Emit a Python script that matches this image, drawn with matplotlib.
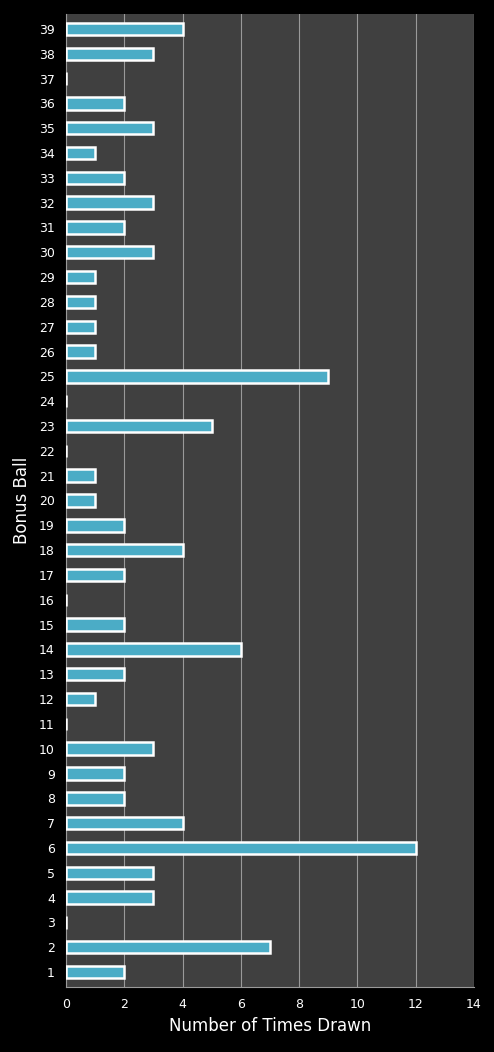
import matplotlib
matplotlib.use("Agg")
import matplotlib.pyplot as plt

balls = list(range(1, 40))
counts = [2,7,0,3,3,12,4,2,2,3,0,1,2,6,2,0,2,4,2,1,1,0,5,0,9,1,1,1,1,3,2,3,2,1,3,2,0,3,4]
xticks = [0,2,4,6,8,10,12,14]

fig = plt.figure(figsize=(4.94,10.52), dpi=100, facecolor='black')
ax = fig.add_axes([0.1336,0.0618,0.8259,0.9249])
ax.set_facecolor('#404040')
ax.barh(balls, counts, height=0.5, color='#4bacc6', edgecolor='white', linewidth=1.8, zorder=3)
ax.set_xlim(0,14)
ax.set_ylim(0.4,39.6)
ax.set_xticks(xticks)
ax.set_yticks(balls)
ax.set_yticklabels([str(b) for b in balls])
ax.grid(axis='x', color='#9a9a9a', linewidth=0.8, zorder=0)
for s in ['top','right']:
    ax.spines[s].set_visible(False)
for s in ['left','bottom']:
    ax.spines[s].set_color('#9a9a9a')
ax.tick_params(colors='white', labelsize=9, length=0, pad=8)
ax.set_xlabel('Number of Times Drawn', color='white', fontsize=12)
ax.set_ylabel('Bonus Ball', color='white', fontsize=12, labelpad=6)
fig.savefig('out.png', dpi=100, facecolor='black')
